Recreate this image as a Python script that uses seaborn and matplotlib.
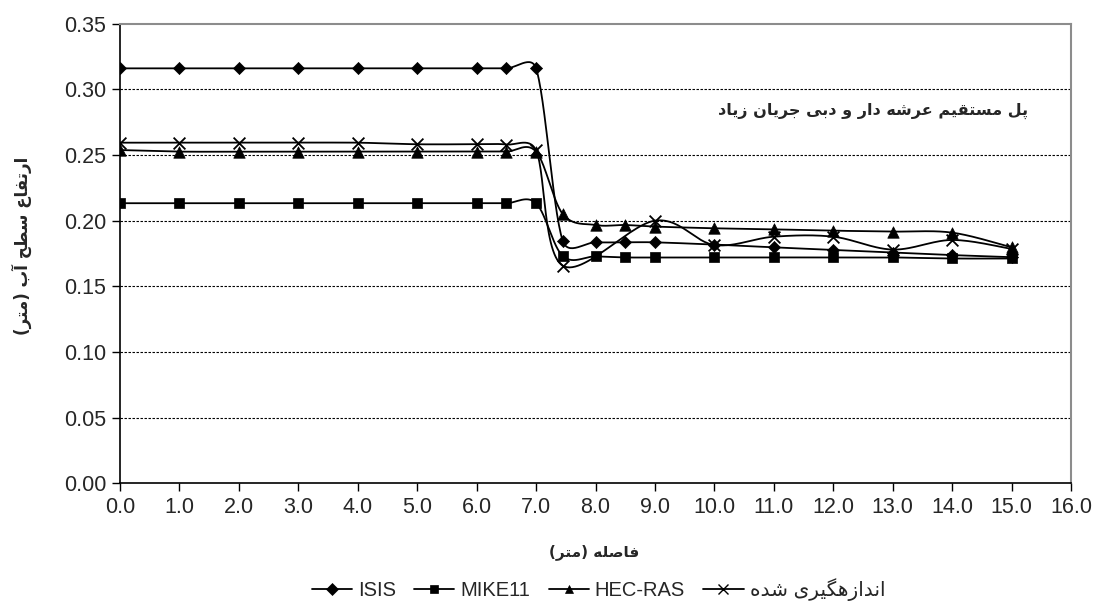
import numpy as np
import pandas as pd
import seaborn as sns
import matplotlib
matplotlib.use("Agg")
import matplotlib.pyplot as plt
from matplotlib.lines import Line2D

# ---------------- data ----------------
distance = [0, 1, 2, 3, 4, 5, 6, 6.5, 7, 7.45, 8, 8.5, 9, 10, 11, 12, 13, 14, 15]
isis = [0.316, 0.316, 0.316, 0.316, 0.316, 0.316, 0.316, 0.316, 0.316,
        0.1845, 0.1835, 0.1835, 0.1835, 0.1818, 0.1797, 0.1777, 0.1757, 0.1738, 0.1722]
mike11 = [0.2133, 0.2133, 0.2133, 0.2133, 0.2133, 0.2133, 0.2133, 0.2133, 0.2133,
          0.1730, 0.1728, 0.1720, 0.1720, 0.1720, 0.1720, 0.1720, 0.1720, 0.1712, 0.1712]
hecras = [0.2538, 0.2526, 0.2526, 0.2526, 0.2526, 0.2526, 0.2526, 0.2526, 0.2526,
          0.2050, 0.1967, 0.1967, 0.1955, 0.1942, 0.1934, 0.1924, 0.1917, 0.1909, 0.1797]
measured = [0.2594, 0.2594, 0.2594, 0.2594, 0.2594, 0.2582, 0.2582, 0.2580, 0.2535,
            0.1657, np.nan, np.nan, 0.2000, 0.1815, 0.1878, 0.1878, 0.1780, 0.1853, 0.1785]

series_names = ["ISIS", "MIKE11", "HEC-RAS", "measured"]
series_values = [isis, mike11, hecras, measured]
x_ticks = [float(v) for v in range(0, 17)]
y_ticks = [0.00, 0.05, 0.10, 0.15, 0.20, 0.25, 0.30, 0.35]

title_text = "پل مستقیم عرشه دار و دبی جریان زیاد"
xlabel_text = "فاصله (متر)"
ylabel_text = "ارتفاع سطح آب (متر)"
measured_label = "اندازهگیری شده"

# ---------------- Persian shaping (visual order, presentation forms) ----------------
FORMS = {
    'ا': ('\uFE8D', '\uFE8E', None, None),
    'آ': ('\uFE81', '\uFE82', None, None),
    'ب': ('\uFE8F', '\uFE90', '\uFE91', '\uFE92'),
    'پ': ('\uFB56', '\uFB57', '\uFB58', '\uFB59'),
    'ت': ('\uFE95', '\uFE96', '\uFE97', '\uFE98'),
    'ج': ('\uFE9D', '\uFE9E', '\uFE9F', '\uFEA0'),
    'ح': ('\uFEA1', '\uFEA2', '\uFEA3', '\uFEA4'),
    'د': ('\uFEA9', '\uFEAA', None, None),
    'ر': ('\uFEAD', '\uFEAE', None, None),
    'ز': ('\uFEAF', '\uFEB0', None, None),
    'س': ('\uFEB1', '\uFEB2', '\uFEB3', '\uFEB4'),
    'ش': ('\uFEB5', '\uFEB6', '\uFEB7', '\uFEB8'),
    'ص': ('\uFEB9', '\uFEBA', '\uFEBB', '\uFEBC'),
    'ط': ('\uFEC1', '\uFEC2', '\uFEC3', '\uFEC4'),
    'ع': ('\uFEC9', '\uFECA', '\uFECB', '\uFECC'),
    'ف': ('\uFED1', '\uFED2', '\uFED3', '\uFED4'),
    'ق': ('\uFED5', '\uFED6', '\uFED7', '\uFED8'),
    'ل': ('\uFEDD', '\uFEDE', '\uFEDF', '\uFEE0'),
    'م': ('\uFEE1', '\uFEE2', '\uFEE3', '\uFEE4'),
    'ن': ('\uFEE5', '\uFEE6', '\uFEE7', '\uFEE8'),
    'ه': ('\uFEE9', '\uFEEA', '\uFEEB', '\uFEEC'),
    'و': ('\uFEED', '\uFEEE', None, None),
    'ی': ('\uFBFC', '\uFBFD', '\uFBFE', '\uFBFF'),
    'گ': ('\uFB92', '\uFB93', '\uFB94', '\uFB95'),
}


def shape(s):
    out = []
    for i, c in enumerate(s):
        if c not in FORMS:
            out.append(c)
            continue
        f = FORMS[c]
        prev = s[i - 1] if i > 0 else None
        nxt = s[i + 1] if i + 1 < len(s) else None
        jp = prev in FORMS and FORMS[prev][2] is not None
        jn = nxt in FORMS and f[2] is not None
        if jp and jn:
            out.append(f[3])
        elif jp:
            out.append(f[1])
        elif jn:
            out.append(f[2])
        else:
            out.append(f[0])
    vis = ''.join(reversed(out))
    return vis.translate(str.maketrans('()', ')('))


# pixel scale of the axes (px per data unit), used only to limit the smoothing handles
SCALE = np.array([59.4, 1313.0])


def smooth(xs, ys, n=30):
    pts = [(a, b) for a, b in zip(xs, ys) if not np.isnan(b)]
    P = np.array(pts, dtype=float)
    m = len(P)

    def handle(v, seg_len):
        L = np.hypot(*(v * SCALE))
        cap = seg_len / 2.0
        if L > cap and L > 0:
            v = v * cap / L
        return v

    out = [P[0]]
    t = np.linspace(0, 1, n)[1:, None]
    for i in range(m - 1):
        p1, p2 = P[i], P[i + 1]
        p0 = P[i - 1] if i > 0 else p1
        p3 = P[i + 2] if i + 2 < m else p2
        d12 = np.hypot(*((p2 - p1) * SCALE))
        c1 = p1 + handle((p2 - p0) / 6.0, d12)
        c2 = p2 - handle((p3 - p1) / 6.0, d12)
        seg = ((1 - t) ** 3) * p1 + 3 * ((1 - t) ** 2) * t * c1 + 3 * (1 - t) * t ** 2 * c2 + t ** 3 * p2
        out.extend(seg)
    out = np.array(out)
    return out[:, 0], out[:, 1]


# ---------------- figure ----------------
sns.set_theme(style="white")
plt.rcParams['font.family'] = ['Liberation Sans', 'DejaVu Sans']

fig = plt.figure(figsize=(10.98, 6.08), dpi=100)
ax = fig.add_axes([0.1093, 0.2051, 0.8661, 0.7559])

markers = {"ISIS": "D", "MIKE11": "s", "HEC-RAS": "^", "measured": "x"}
sizes = {"ISIS": 38, "MIKE11": 62, "HEC-RAS": 68, "measured": 72}

rows = []
for name, vals in zip(series_names, series_values):
    sx, sy = smooth(distance, vals)
    ax.plot(sx, sy, color="black", lw=1.3, zorder=3)
    for xv, yv in zip(distance, vals):
        if not np.isnan(yv):
            rows.append({"distance": xv, "height": yv, "series": name})
df = pd.DataFrame(rows)

for name in series_names:
    sub = df[df["series"] == name]
    if markers[name] == "x":
        sns.scatterplot(data=sub, x="distance", y="height", marker="x", s=sizes[name],
                        color="black", linewidth=1.3, ax=ax, zorder=4, legend=False)
    else:
        sns.scatterplot(data=sub, x="distance", y="height", marker=markers[name], s=sizes[name],
                        color="black", edgecolor="black", linewidth=0.5, ax=ax, zorder=4, legend=False)

ax.set_xlim(0, 16)
ax.set_ylim(0, 0.35)
ax.set_xticks(x_ticks)
ax.set_xticklabels([f"{v:.1f}" for v in x_ticks])
ax.set_yticks(y_ticks)
ax.set_yticklabels([f"{v:.2f}" for v in y_ticks])
ax.tick_params(axis="both", which="both", direction="out", length=6, width=1,
               color="black", labelsize=15.5, pad=4, bottom=True, left=True)
for yv in y_ticks[1:-1]:
    ax.axhline(yv, color="black", lw=0.8, ls=(0, (2.2, 1.4)), zorder=1)
ax.grid(False)
for side in ["left", "bottom"]:
    ax.spines[side].set_color("black")
    ax.spines[side].set_linewidth(1.2)
for side in ["top", "right"]:
    ax.spines[side].set_color("#8c8c8c")
    ax.spines[side].set_linewidth(1.5)
ax.set_xlabel("")
ax.set_ylabel("")

ax.text(0.792, 0.81, shape(title_text), transform=ax.transAxes, ha="center", va="center",
        fontsize=11.5, fontweight="bold", family=["DejaVu Sans"])
fig.text(0.541, 0.092, shape(xlabel_text), ha="center", va="center", fontsize=11,
         fontweight="bold", family=["DejaVu Sans"])
fig.text(0.02, 0.595, shape(ylabel_text), ha="center", va="center", rotation=90,
         fontsize=12, fontweight="bold", family=["DejaVu Sans"])

labels = ["ISIS", "MIKE11", "HEC-RAS", shape(measured_label)]
handles = []
for name in series_names:
    mk = markers[name]
    handles.append(Line2D([0], [0], color="black", lw=1.3, marker=mk,
                          markersize=6 if mk != "x" else 7, markeredgewidth=1.0 if mk == "x" else 0.5,
                          markerfacecolor="black", markeredgecolor="black"))
fig.legend(handles, labels, loc="center", bbox_to_anchor=(0.545, 0.03), ncol=4, frameon=False,
           handlelength=2.0, handletextpad=0.3, columnspacing=0.9,
           prop={"family": ["Liberation Sans", "DejaVu Sans"], "size": 14.5})

fig.savefig("out.png", dpi=100)
